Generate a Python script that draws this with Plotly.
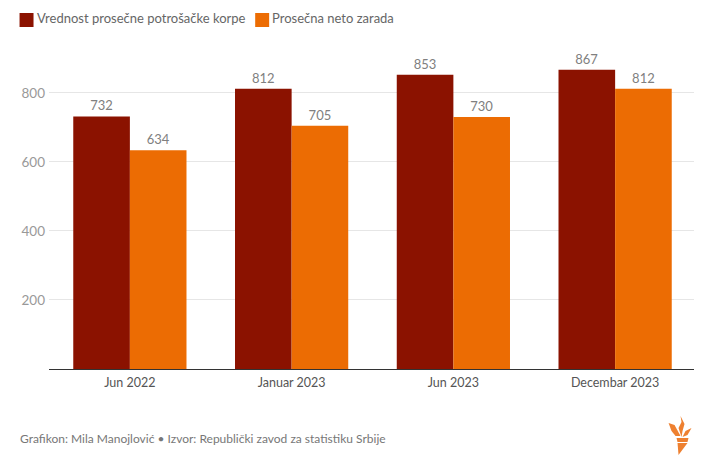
import plotly.graph_objects as go

categories = ["Jun 2022", "Januar 2023", "Jun 2023", "Decembar 2023"]
basket = [732, 812, 853, 867]
salary = [634, 705, 730, 812]
y_ticks = [200, 400, 600, 800]
name_a = "Vrednost prosečne potrošačke korpe"
name_b = "Prosečna neto zarada"
credit = "Grafikon: Mila Manojlović • Izvor: Republički zavod za statistiku Srbije"

FONT = "Lato, sans-serif"
DARK = "#8b1200"
ORANGE = "#ec6c03"

# The page adds an 8px body margin, so the figure is laid out 8px smaller.
W, H = 694, 462
L, R, T, B = 40.5, 5.5, 48, 101
PW, PH = W - L - R, H - T - B


def px(x):
    return (x - 8 - L) / PW


def py(y):
    return (H - B - (y - 8)) / PH


fig = go.Figure()
for name, vals, col in [(name_a, basket, DARK), (name_b, salary, ORANGE)]:
    fig.add_trace(go.Bar(
        x=categories, y=vals, name=name, marker=dict(color=col, line_width=0),
        text=vals, textposition="outside", cliponaxis=False,
        textfont=dict(family=FONT, size=13, color="#808080"),
        showlegend=False,
    ))

fig.update_layout(
    width=W, height=H, autosize=False,
    margin=dict(l=L, r=R, t=T, b=B),
    paper_bgcolor="white", plot_bgcolor="white",
    barmode="group", bargap=0.3, bargroupgap=0,
    font=dict(family=FONT, size=13, color="#555555"),
    xaxis=dict(showgrid=False, showline=True, linecolor="#333333", linewidth=1,
               ticks="", ticklabelstandoff=2,
               tickfont=dict(family=FONT, size=12.5, color="#555555")),
    yaxis=dict(range=[0, 907], tickvals=y_ticks, showgrid=True, gridcolor="#e6e6e6",
               gridwidth=1, zeroline=False, showline=False, ticks="", ticklabelstandoff=3,
               tickfont=dict(family=FONT, size=13.5, color="#999999")),
)

# legend swatches and text
for x0, x1, col in [(19, 33, DARK), (255, 269, ORANGE)]:
    fig.add_shape(type="rect", xref="paper", yref="paper",
                  x0=px(x0), x1=px(x1), y0=py(27), y1=py(13),
                  fillcolor=col, line_width=0)
for x, t in [(36, name_a), (272, name_b)]:
    fig.add_annotation(text=t, xref="paper", yref="paper", x=px(x), y=py(18.5),
                       xanchor="left", yanchor="middle", showarrow=False,
                       xshift=-2,
                       font=dict(family=FONT, size=13, color="#666666"))
fig.add_annotation(text=credit, xref="paper", yref="paper", x=px(19), y=py(438),
                   xanchor="left", yanchor="middle", showarrow=False, xshift=-2,
                   font=dict(family=FONT, size=12, color="#777777"))

# torch logo, outlined in page pixels
logo_parts = [
    [(669, 423), (675, 425), (681, 436), (676, 436), (672, 431)],
    [(681, 416), (685, 424), (683, 431), (682, 437), (679, 428), (682, 422)],
    [(692, 428), (686, 431), (683, 437), (688, 435)],
    [(677, 438), (689, 438), (688, 442), (678, 442)],
    [(678, 443), (688, 443), (679, 455)],
]
for part in logo_parts:
    d = "M " + " L ".join(f"{px(a):.5f},{py(b):.5f}" for a, b in part) + " Z"
    fig.add_shape(type="path", xref="paper", yref="paper", path=d,
                  fillcolor="#ee8030", line_width=0)

fig.write_html("out.html")
